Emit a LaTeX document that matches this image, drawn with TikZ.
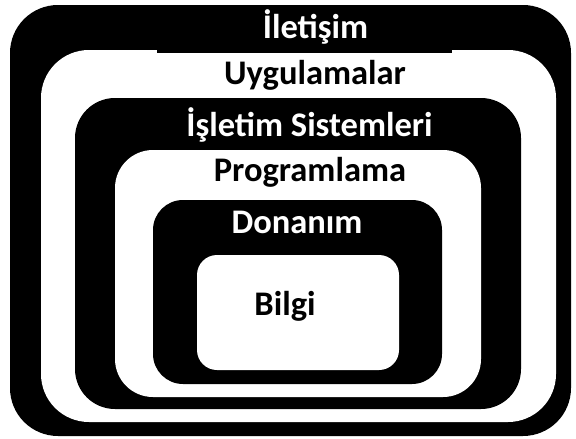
\documentclass[tikz,border=0pt]{standalone}
\usepackage{fontspec}
\setmainfont{Carlito}
\begin{document}
\begin{tikzpicture}[x=1pt,y=-1pt,
  blackring/.style={fill=black},
  whitering/.style={fill=white},
  lbl/.style={font=\fontsize{34.5}{34.5}\selectfont\bfseries, inner sep=0pt, anchor=center},
  lblw/.style={lbl, text=white},
  lblb/.style={lbl, text=black}]
\useasboundingbox[fill=white] (0,0) rectangle (576,439);
\fill[blackring, rounded corners=48pt] (10,5) rectangle (571,436);
\fill[whitering, rounded corners=48pt] (41,50) rectangle (556,422);
\fill[blackring] (157,50) rectangle (452,53);
\fill[blackring, rounded corners=40pt] (75,98) rectangle (521,409);
\fill[whitering, rounded corners=38pt] (115,150) rectangle (481,397);
\fill[blackring, rounded corners=30pt] (153,200) rectangle (442,384);
\fill[whitering, rounded corners=20pt] (197,255) rectangle (399,370);
\node[lblw] (iletisim) at (315.5,27) {İletişim};
\node[lblb] (uyg) at (315,75) {Uygulamalar};
\node[lblw] (isletim) at (309.5,125) {İşletim Sistemleri};
\node[lblb] (prog) at (310,172) {Programlama};
\node[lblw] (donanim) at (297,222) {Donanım};
\node[lblb] (bilgi) at (285,306) {Bilgi};
\end{tikzpicture}
\end{document}
